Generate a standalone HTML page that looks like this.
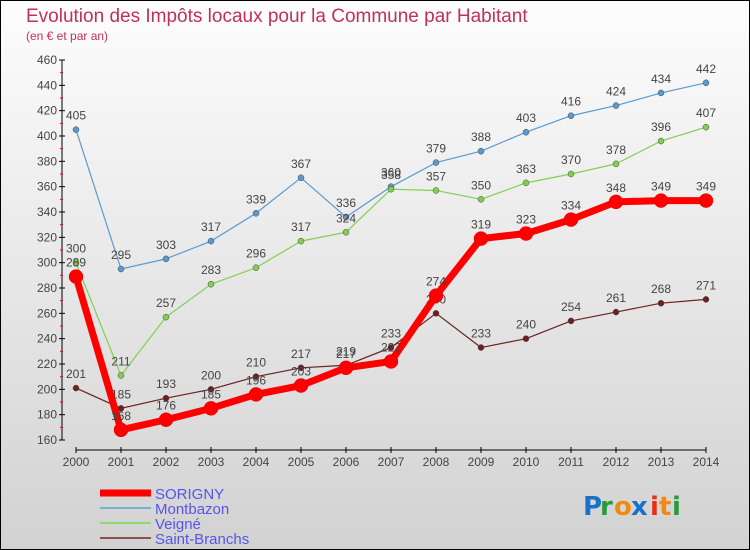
<!DOCTYPE html>
<html><head><meta charset="utf-8"><style>
html,body{margin:0;padding:0}
body{width:750px;height:550px;overflow:hidden;font-family:"Liberation Sans",sans-serif}
#frame{position:absolute;left:0;top:0;width:748px;height:548px;border:1px solid #000;background:linear-gradient(#fdfdfd,#d2d2d2)}
</style></head><body>
<div id="frame">
<svg id="chart" width="750" height="550" style="position:absolute;left:-1px;top:-1px">
<text x="26" y="22" font-size="19" fill="#c0305a">Evolution des Impôts locaux pour la Commune par Habitant</text>
<text x="26" y="40" font-size="12" fill="#c0305a">(en € et par an)</text>
<g id="axes"></g><g id="series"></g><g id="legend"></g>
<g font-size="26" font-family="'DejaVu Sans',sans-serif" font-weight="bold">
<text x="583" y="515" fill="#1a72c8">P</text><text x="600" y="515" fill="#2a9a3a">r</text><text x="614" y="515" fill="#f08a10">o</text><text x="631" y="515" fill="#1a72c8">x</text><text x="650" y="515" fill="#e83010">i</text><text x="659" y="515" fill="#f08a10">t</text><text x="672" y="515" fill="#2a9a3a">i</text>
</g>
</svg>
</div>
<script>
const years=[2000,2001,2002,2003,2004,2005,2006,2007,2008,2009,2010,2011,2012,2013,2014];
const yTicks=[160,180,200,220,240,260,280,300,320,340,360,380,400,420,440,460];
const sorigny=[289,168,176,185,196,203,217,222,274,319,323,334,348,349,349];
const montbazon=[405,295,303,317,339,367,336,360,379,388,403,416,424,434,442];
const veigne=[300,211,257,283,296,317,324,358,357,350,363,370,378,396,407];
const saintBranchs=[201,185,193,200,210,217,219,233,260,233,240,254,261,268,271];
const seriesNames=["SORIGNY","Montbazon","Veigné","Saint-Branchs"];
const NS="http://www.w3.org/2000/svg";
const xs=i=>76+45*i;
const ys=v=>440-(v-160)*380/300;
function mk(tag,attrs,parent){const e=document.createElementNS(NS,tag);for(const k in attrs)e.setAttribute(k,attrs[k]);parent.appendChild(e);return e;}
const ax=document.getElementById('axes');
let l=mk('line',{x1:62,y1:ys(460),x2:62,y2:ys(160),stroke:'#000','stroke-width':1},ax);


yTicks.forEach((t,i)=>{
 const y=ys(t);
 mk('line',{x1:59,y1:y,x2:65,y2:y,stroke:'#000'},ax);
 const tx=mk('text',{x:57,y:y+4,'text-anchor':'end','font-size':12,fill:'#444'},ax);
 tx.textContent=t;
 
 
 if(i<yTicks.length-1){const m=ys(t+10);mk('line',{x1:60,y1:m,x2:63,y2:m,stroke:'#f00'},ax);}
});
l=mk('line',{x1:xs(0),y1:450,x2:xs(years.length-1),y2:450,stroke:'#000','stroke-width':1},ax);


years.forEach((yr,i)=>{
 mk('line',{x1:xs(i),y1:447,x2:xs(i),y2:453,stroke:'#000'},ax);
 const tx=mk('text',{x:xs(i),y:466,'text-anchor':'middle','font-size':12,fill:'#444'},ax);
 tx.textContent=yr;
 
 
});
const sg=document.getElementById('series');
const defs=[
 {d:montbazon,c:'#5a9ad0',w:1.2,r:3,name:'montbazon'},
 {d:veigne,c:'#80d050',w:1.2,r:3,name:'veigne'},
 {d:saintBranchs,c:'#6a2020',w:1.2,r:3,name:'saint-branchs'},
 {d:sorigny,c:'#f00',w:7,r:7,name:'sorigny'}];
defs.forEach(s=>{
 const g=mk('g',{},sg);
 
 
 const p=mk('polyline',{points:s.d.map((v,i)=>xs(i)+','+ys(v)).join(' '),fill:'none',stroke:s.c,'stroke-width':s.w,'stroke-linejoin':'round'},g);
 
 
 s.d.forEach((v,i)=>{
  const c=mk('circle',{cx:xs(i),cy:ys(v),r:s.r,fill:s.c,stroke:s.name==='sorigny'?'#d00':'#444','stroke-width':0.5},g);
  
  
  const t=mk('text',{x:xs(i),y:ys(v)-10,'text-anchor':'middle','font-size':12,fill:'#444'},g);
  t.textContent=v;
  
  
 });
});
const lg=document.getElementById('legend');
const lc=['#f00','#7aaed8','#90d870','#8a5050'],lw=[7,2,2,2];
seriesNames.forEach((n,i)=>{
 const y=493+i*15;
 const g=mk('g',{},lg);
 
 
 mk('line',{x1:100,y1:y,x2:151,y2:y,stroke:lc[i],'stroke-width':lw[i]},g);
 const t=mk('text',{x:155,y:y+6,'font-size':15,fill:'#5555ee'},g);
 t.textContent=n;
});
</script>
</body></html>
